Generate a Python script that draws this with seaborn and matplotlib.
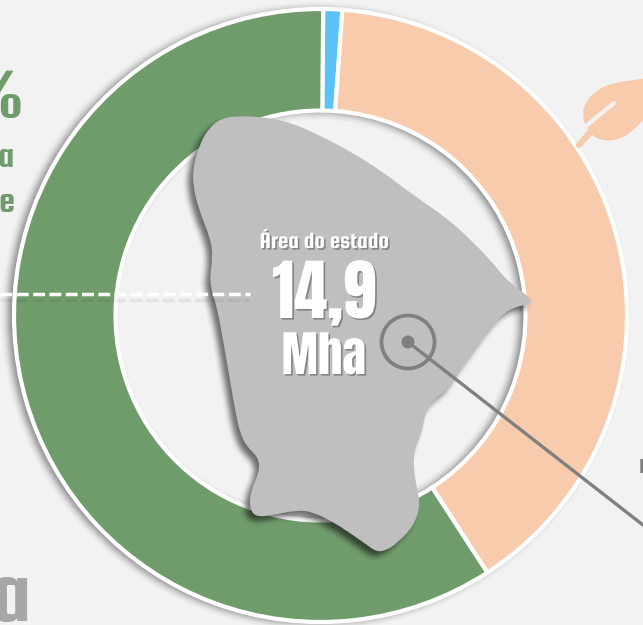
import numpy as np
import pandas as pd
import matplotlib
matplotlib.use("Agg")
import matplotlib.pyplot as plt
import seaborn as sns
from matplotlib.patches import Circle, PathPatch
from matplotlib.path import Path
import matplotlib.patheffects as pe

# dados do anel (% da área)
categorias = ["Água", "Agropecuária", "Vegetação"]
valores = [1.0, 39.7, 59.3]
cores = ["#5BC2F7", "#F8CBAD", "#709C6C"]

# contorno do estado, em pixels da imagem
estado_x = [222, 240, 263, 290, 323, 353, 383, 413, 447, 473, 493, 508, 538, 513, 500, 487, 473, 460,
            450, 433, 425, 422, 415, 413, 418, 420, 413, 397, 387, 377, 367, 350, 333, 313, 297, 273,
            257, 250, 250, 260, 258, 247, 240, 235, 230, 223, 217, 209, 213, 210, 200, 193, 193, 200, 210]
estado_y = [118, 116, 117, 122, 137, 153, 172, 195, 218, 242, 263, 282, 303, 307, 317, 333, 353, 370,
            388, 400, 413, 433, 447, 467, 493, 507, 527, 543, 550, 552, 545, 533, 522, 512, 510, 515,
            517, 510, 493, 470, 457, 447, 433, 410, 380, 340, 307, 282, 257, 237, 213, 187, 167, 143, 127]

# folha no canto direito
folha_x = [665, 640, 612, 597, 586, 582, 586, 592, 604, 618, 632, 650, 675]
folha_y = [76, 79, 83, 90, 101, 114, 127, 136, 141, 140, 132, 113, 90]
veio_x = [614, 586]
veio_y = [103, 126]
caule_x = [594, 579]
caule_y = [128, 145]

LARG, ALT = 643, 625
FUNDO = "#F2F2F2"
CX, CY = 320.5, 315.5
R_FORA, R_DENTRO = 306.5, 205

sns.set_theme(style="white")
FONTE = ["Squada One", "Anton", "Liberation Sans", "DejaVu Sans"]
FONTE_GRANDE = ["Anton", "Squada One", "Liberation Sans", "DejaVu Sans"]
plt.rcParams["font.family"] = FONTE

fig = plt.figure(figsize=(6.43, 6.25), dpi=100, facecolor=FUNDO)
ax = fig.add_axes([0, 0, 1, 1], facecolor=FUNDO)

gx, gy = np.meshgrid(np.arange(LARG) + 0.5, np.arange(ALT) + 0.5)


def curva(xs, ys):
    # contorno fechado suavizado, com os pontos como controle
    pts = np.column_stack([xs, ALT - np.array(ys, dtype=float)])
    meios = (pts + np.roll(pts, -1, axis=0)) / 2
    verts = [meios[-1]]
    codes = [Path.MOVETO]
    for p, m in zip(pts, meios):
        verts += [p, m]
        codes += [Path.CURVE3, Path.CURVE3]
    return Path(verts, codes)


def sombra(mascara, n, alfa, zorder):
    # desfoque simples da máscara e desenho como imagem preta translúcida
    k = np.ones(n) / n
    m = mascara.astype(float)
    for _ in range(2):
        m = np.apply_along_axis(lambda v: np.convolve(v, k, mode="same"), 0, m)
        m = np.apply_along_axis(lambda v: np.convolve(v, k, mode="same"), 1, m)
    rgba = np.zeros((ALT, LARG, 4))
    rgba[..., 3] = m * alfa
    ax.imshow(rgba, extent=(0, LARG, 0, ALT), origin="upper", aspect="auto", zorder=zorder, interpolation="bilinear")


# sombra do anel
d = np.hypot(gx - (CX - 5), gy - (CY + 1))
sombra((d < R_FORA + 1) & (d > R_DENTRO - 1), 9, 0.45, 1)

# anel
ax.pie(valores, colors=cores, startangle=89.5, counterclock=False, radius=R_FORA, center=(CX, ALT - CY),
       wedgeprops=dict(width=R_FORA - R_DENTRO, edgecolor="white", linewidth=3), frame=True)
for w in ax.patches:
    w.set_zorder(2)

# sombra e mancha do estado
contorno = curva(estado_x, estado_y)
m_estado = contorno.contains_points(np.column_stack([(gx + 5).ravel(), (ALT - gy + 5).ravel()])).reshape(gx.shape)
sombra(m_estado, 7, 0.55, 3)
ax.add_patch(PathPatch(contorno, fc="#BFBFBF", ec="none", zorder=4))

# linha tracejada
tracejado = pd.DataFrame({"x": [0, 250], "y": [ALT - 294, ALT - 294]})
sns.lineplot(data=tracejado, x="x", y="y", ax=ax, color="white", lw=2.5, errorbar=None, zorder=5,
             linestyle=(0, (3.4, 1.3)),
             path_effects=[pe.SimpleLineShadow(offset=(-1, -4), shadow_color="black", alpha=0.06), pe.Normal()])

# marcador e linha de ligação
ligacao = pd.DataFrame({"x": [408, 643], "y": [ALT - 342, ALT - 525]})
sns.lineplot(data=ligacao, x="x", y="y", ax=ax, color="#808080", lw=2.4, errorbar=None, zorder=6)
ax.add_patch(Circle((408, ALT - 342), 26.5, fc="none", ec="#808080", lw=2.7, zorder=6))
ax.add_patch(Circle((408, ALT - 342), 6.5, fc="#808080", ec="none", zorder=6))

# folha
ax.plot(caule_x, [ALT - v for v in caule_y], color="#F8CBAD", lw=4.5, solid_capstyle="round", zorder=3)
ax.add_patch(PathPatch(curva(folha_x, folha_y), fc="#F8CBAD", ec="none", zorder=3))
ax.plot(veio_x, [ALT - v for v in veio_y], color=FUNDO, lw=3, solid_capstyle="round", zorder=4)

# textos centrais
efeito = [pe.SimplePatchShadow(offset=(1.2, -1.2), shadow_rgbFace="black", alpha=0.3), pe.Normal()]
ax.text(324, ALT - 248, "Área do estado", color="white", fontsize=17, ha="center", va="baseline", zorder=7,
        path_effects=efeito)
ax.text(324, ALT - 318, "14,9", color="white", fontsize=48, ha="center", va="baseline", zorder=7,
        family=FONTE_GRANDE, path_effects=efeito)
ax.text(324, ALT - 374, "Mha", color="white", fontsize=35, ha="center", va="baseline", zorder=7,
        family=FONTE_GRANDE, path_effects=efeito)

# textos cortados nas margens
ax.text(22, ALT - 117, "%", color="#709C6C", fontsize=52, ha="right", va="baseline", zorder=1)
ax.text(14, ALT - 167, "a", color="#709C6C", fontsize=26, ha="right", va="baseline", zorder=1)
ax.text(14, ALT - 212, "e", color="#709C6C", fontsize=26, ha="right", va="baseline", zorder=1)
ax.text(31, ALT - 621, "a", color="#A6A6A6", fontsize=64, ha="right", va="baseline", zorder=1)
ax.text(639, ALT - 473, "r", color="#808080", fontsize=20, ha="left", va="baseline", zorder=1)

ax.set_xlim(0, LARG)
ax.set_ylim(0, ALT)
ax.set_aspect("auto")
ax.set_axis_off()

fig.savefig("out.png", dpi=100, facecolor=FUNDO)
